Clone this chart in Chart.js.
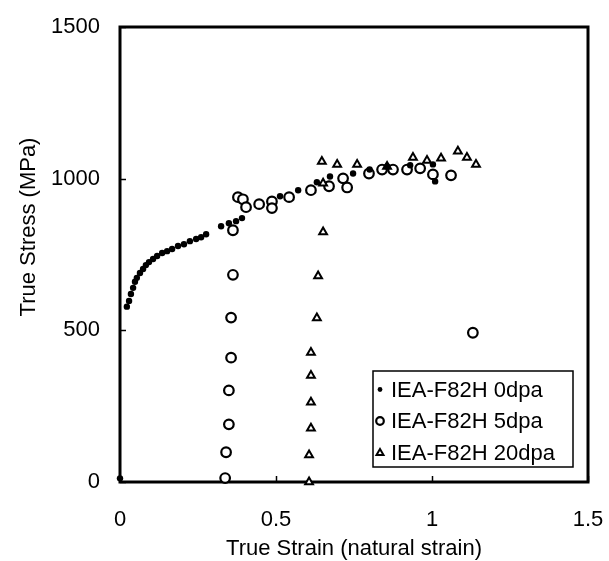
<!DOCTYPE html>
<html>
<head>
<meta charset="utf-8">
<script src="https://cdn.jsdelivr.net/npm/chart.js@4"></script>
<style>
  html, body { margin: 0; padding: 0; background: #fff; }
  #wrap { width: 609px; height: 561px; }
</style>
</head>
<body>
<div id="wrap"><canvas id="chart" width="609" height="561"></canvas></div>
<script>
// 0 dpa (filled dots)
const strain0 = [0, 0.022, 0.029, 0.035, 0.042, 0.048, 0.054, 0.064, 0.074, 0.083, 0.093, 0.106,
    0.119, 0.135, 0.151, 0.167, 0.186, 0.205, 0.224, 0.244, 0.26, 0.276, 0.324, 0.349, 0.372, 0.391,
    0.513, 0.571, 0.631, 0.673, 0.747, 0.80, 0.856, 0.93, 1.003, 1.01];
const stress0 = [12, 578, 597, 620, 640, 660, 673, 689, 702, 715, 725, 735,
    745, 755, 761, 768, 778, 784, 794, 801, 807, 817, 843, 853, 860, 870,
    942, 962, 988, 1007, 1017, 1030, 1040, 1044, 1047, 991];

// 5 dpa (open circles)
const strain5 = [0.337, 0.34, 0.349, 0.349, 0.356, 0.356, 0.362, 0.362, 0.378, 0.394, 0.404, 0.446,
    0.487, 0.487, 0.542, 0.612, 0.67, 0.715, 0.728, 0.798, 0.84, 0.875, 0.92, 0.962, 1.003, 1.061, 1.131];
const stress5 = [13, 98, 190, 302, 410, 542, 683, 830, 939, 932, 906, 916,
    925, 903, 939, 962, 975, 1001, 971, 1017, 1030, 1030, 1030, 1034, 1014, 1011, 492];

// 20 dpa (open triangles)
const strain20 = [0.606, 0.606, 0.612, 0.612, 0.612, 0.612, 0.631, 0.635, 0.651, 0.651, 0.647,
    0.696, 0.76, 0.856, 0.939, 0.984, 1.029, 1.083, 1.112, 1.141];
const stress20 = [0, 89, 177, 263, 351, 427, 541, 679, 824, 985, 1057,
    1047, 1047, 1040, 1070, 1060, 1067, 1090, 1070, 1047];

const seriesNames = ['IEA-F82H 0dpa', 'IEA-F82H 5dpa', 'IEA-F82H 20dpa'];
const xTicks = [0, 0.5, 1, 1.5];
const yTicks = [0, 500, 1000, 1500];

const FONT = '"Liberation Sans", Arial, sans-serif';

function toPoints(xs, ys) {
    return xs.map((x, i) => ({ x: x, y: ys[i] }));
}

// frame, inward ticks, axis titles and legend box
const decorations = {
    id: 'decorations',
    beforeDatasetsDraw(chart) {
        const ctx = chart.ctx;
        const xs = chart.scales.x, ys = chart.scales.y;
        // plot box taken from the scales themselves
        const left = xs.getPixelForValue(xTicks[0]);
        const right = xs.getPixelForValue(xTicks[xTicks.length - 1]);
        const bottom = ys.getPixelForValue(yTicks[0]);
        const top = ys.getPixelForValue(yTicks[yTicks.length - 1]);
        ctx.save();
        ctx.strokeStyle = '#000';
        ctx.lineWidth = 1.5;
        xTicks.forEach(v => {
            const px = Math.round(xs.getPixelForValue(v)) + 0.5;
            ctx.beginPath();
            ctx.moveTo(px, bottom);
            ctx.lineTo(px, bottom - 6);
            ctx.stroke();
        });
        yTicks.forEach(v => {
            const py = Math.round(ys.getPixelForValue(v)) + 0.5;
            ctx.beginPath();
            ctx.moveTo(left, py);
            ctx.lineTo(left + 6, py);
            ctx.stroke();
        });
        ctx.lineWidth = 3;
        ctx.strokeRect(left, top, right - left, bottom - top);
        ctx.restore();
    },
    afterDraw(chart) {
        const ctx = chart.ctx;
        ctx.save();
        ctx.fillStyle = '#000';
        ctx.font = '22px ' + FONT;
        ctx.textAlign = 'center';
        ctx.textBaseline = 'middle';
        ctx.fillText('True Strain (natural strain)', 354, 549);
        ctx.save();
        ctx.translate(29, 227);
        ctx.rotate(-Math.PI / 2);
        ctx.fillText('True Stress (MPa)', 0, 0);
        ctx.restore();

        // legend
        ctx.fillStyle = '#fff';
        ctx.fillRect(373, 371, 200, 96);
        ctx.strokeStyle = '#000';
        ctx.lineWidth = 1.5;
        ctx.strokeRect(373, 371, 200, 96);
        const rows = [389.5, 421, 452.5];
        ctx.textAlign = 'left';
        chart.data.datasets.forEach((ds, i) => {
            const y = rows[i];
            ctx.fillStyle = '#000';
            ctx.fillText(seriesNames[i], 391, y + 1);
            ctx.fillStyle = ds.backgroundColor;
            ctx.strokeStyle = '#000';
            ctx.lineWidth = ds.borderWidth;
            ctx.beginPath();
            if (i === 0) {
                ctx.arc(380, y, 2.4, 0, Math.PI * 2);
                ctx.fill();
            } else if (i === 1) {
                ctx.arc(380, y, 3.8, 0, Math.PI * 2);
                ctx.fill();
                ctx.stroke();
            } else {
                ctx.moveTo(380, y - 3.5);
                ctx.lineTo(383.5, y + 2.5);
                ctx.lineTo(376.5, y + 2.5);
                ctx.closePath();
                ctx.fill();
                ctx.stroke();
            }
        });
        ctx.restore();
    }
};

new Chart(document.getElementById('chart'), {
    type: 'scatter',
    data: {
        datasets: [
            {
                label: seriesNames[0],
                data: toPoints(strain0, stress0),
                pointStyle: 'circle',
                pointRadius: 3.2,
                backgroundColor: '#000',
                borderColor: '#000',
                borderWidth: 0,
                order: 1,
                clip: false
            },
            {
                label: seriesNames[1],
                data: toPoints(strain5, stress5),
                pointStyle: 'circle',
                pointRadius: 4.8,
                backgroundColor: '#fff',
                borderColor: '#000',
                borderWidth: 2.2,
                order: 3,
                clip: false
            },
            {
                label: seriesNames[2],
                data: toPoints(strain20, stress20),
                pointStyle: 'triangle',
                pointRadius: 4.5,
                backgroundColor: '#fff',
                borderColor: '#000',
                borderWidth: 2,
                order: 2,
                clip: false
            }
        ]
    },
    options: {
        responsive: false,
        animation: false,
        events: [],
        layout: { padding: { top: 27, right: 21, left: 0, bottom: 0 } },
        plugins: {
            legend: { display: false },
            tooltip: { enabled: false }
        },
        scales: {
            x: {
                type: 'linear',
                min: 0,
                max: 1.5,
                afterFit: scale => {
                    scale.height = 79;
                    scale.paddingLeft = 0;
                    scale.paddingRight = 0;
                },
                afterBuildTicks: scale => { scale.ticks = xTicks.map(v => ({ value: v })); },
                grid: { display: false },
                border: { display: false },
                ticks: {
                    color: '#000',
                    font: { family: FONT, size: 22 },
                    padding: 17,
                    maxRotation: 0,
                    callback: v => String(v)
                }
            },
            y: {
                type: 'linear',
                min: 0,
                max: 1500,
                afterFit: scale => {
                    scale.width = 120;
                    scale.paddingTop = 0;
                    scale.paddingBottom = 0;
                },
                afterBuildTicks: scale => { scale.ticks = yTicks.map(v => ({ value: v })); },
                grid: { display: false },
                border: { display: false },
                ticks: {
                    color: '#000',
                    font: { family: FONT, size: 22 },
                    padding: 12,
                    callback: v => String(v)
                }
            }
        }
    },
    plugins: [decorations]
});
</script>
</body>
</html>
